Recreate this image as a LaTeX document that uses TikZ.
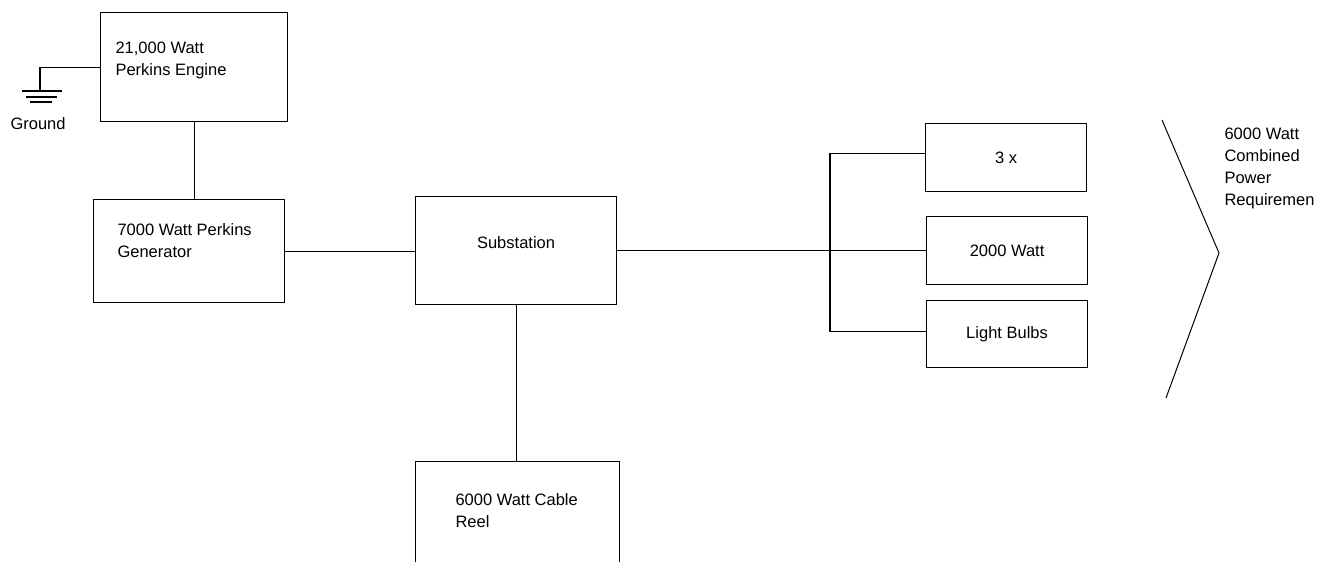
\documentclass[tikz,border=0pt]{standalone}
\usepackage{fontspec}
\setmainfont{Liberation Sans}
\usetikzlibrary{positioning}

\begin{document}
\begin{tikzpicture}[
  x=1pt,y=-1pt,
  line width=1.1pt,
  font=\fontsize{16.5}{22}\selectfont,
  box/.style={draw,inner sep=0pt,anchor=north west},
  loadbox/.style={box,minimum width=161pt,minimum height=68pt},
  txt/.style={inner sep=0pt,align=left,anchor=north west}
]
\clip (0,0) rectangle (1325,562);
% supply side
\node[box,minimum width=187pt,minimum height=109pt] (engine) at (100,12) {};
\node[box,minimum width=191pt,minimum height=103pt] (generator) at (93,199) {};
\node[box,minimum width=201pt,minimum height=108pt] (substation) at (415,196) {};
\node[box,minimum width=204pt,minimum height=120pt] (reel) at (415,461) {};
\node[txt,below right=29pt and 15pt of engine.north west] (enginetxt) {21,000 Watt\\Perkins Engine};
\node[txt,below right=24pt and 24pt of generator.north west] (generatortxt) {7000 Watt Perkins\\Generator};
\node[txt,anchor=north,below=40pt of substation.north] (substationtxt) {Substation};
\node[txt,below right=32pt and 40pt of reel.north west] (reeltxt) {6000 Watt Cable\\Reel};
% loads
\node[loadbox] (lamps3) at (925,123) {3 x};
\node[loadbox] (watt2000) at (926,216) {2000 Watt};
\node[loadbox,minimum height=67pt] (bulbs) at (926,300) {Light Bulbs};
% ground
\coordinate (gnd) at (40,91);
\draw (engine.west) -| (gnd);
\draw ([xshift=-18pt]gnd) -- ([xshift=22pt]gnd);
\draw ([xshift=-14pt,yshift=-6pt]gnd) -- ([xshift=17pt,yshift=-6pt]gnd);
\draw ([xshift=-10pt,yshift=-11pt]gnd) -- ([xshift=12pt,yshift=-11pt]gnd);
\node[txt] (groundtxt) at (10,117) {Ground};
% wiring
\draw (engine.south) -- (engine.south |- generator.north);
\draw (generator.east) -- (generator.east -| substation.west);
\draw (substation.south) -- (substation.south |- reel.north);
\draw (substation.east) -- (watt2000.west);
\coordinate (bus) at (830,250);
\coordinate (tap1) at ([yshift=4pt]lamps3.west);
\coordinate (tap3) at ([yshift=3pt]bulbs.west);
\draw (tap1) -| (bus) |- (tap3);
% combined requirement
\draw[line width=1pt] (1162,120) -- (1219,253) -- (1166,398);
\node[txt] (powertxt) at (1224,127) {6000 Watt\\Combined\\Power\\Requiremen};
\end{tikzpicture}
\end{document}
